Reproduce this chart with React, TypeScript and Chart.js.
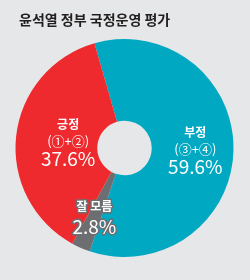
import React, { useEffect, useRef } from "react";
import { Chart, registerables } from "chart.js";

Chart.register(...registerables);

const TITLE = "윤석열 정부 국정운영 평가";
const categories = ["부정", "잘 모름", "긍정"];
const subLabels = ["(③+④)", "", "(①+②)"];
const values = [59.6, 2.8, 37.6];
const colors = ["#00a9c1", "#6d6e72", "#ee2a2e"];
const BG = "#e6e7e9";
const FONT = "'Noto Sans CJK KR', 'Noto Sans', sans-serif";

const labelPlugin = {
  id: "sliceLabels",
  afterDraw(chart: any) {
    const ctx = chart.ctx;
    ctx.save();
    // title
    ctx.fillStyle = "#231f20";
    ctx.font = `bold 14px ${FONT}`;
    ctx.textAlign = "left";
    ctx.textBaseline = "middle";
    ctx.fillText(TITLE, 19, 20);

    const meta = chart.getDatasetMeta(0);
    const radiusFactor = [0.65, 0.69, 0.52];
    meta.data.forEach((arc: any, i: number) => {
      const mid = (arc.startAngle + arc.endAngle) / 2;
      const r = arc.outerRadius * radiusFactor[i];
      const x = arc.x + Math.cos(mid) * r;
      const y = arc.y + Math.sin(mid) * r;
      const pct = values[i].toFixed(1) + "%";
      ctx.textAlign = "center";
      ctx.textBaseline = "middle";
      if (subLabels[i]) {
        ctx.fillStyle = "#ffffff";
        ctx.font = `bold 12px ${FONT}`;
        ctx.fillText(categories[i], x, y - 17);
        ctx.font = `13px ${FONT}`;
        ctx.fillText(subLabels[i], x, y - 1);
        ctx.font = `19px ${FONT}`;
        ctx.fillText(pct, x, y + 17);
      } else {
        ctx.lineJoin = "round";
        ctx.strokeStyle = "#6d6e72";
        ctx.lineWidth = 3;
        ctx.fillStyle = "#ffffff";
        ctx.font = `bold 12px ${FONT}`;
        ctx.strokeText(categories[i], x, y - 10);
        ctx.fillText(categories[i], x, y - 10);
        ctx.font = `19px ${FONT}`;
        ctx.strokeText(pct, x, y + 10);
        ctx.fillText(pct, x, y + 10);
      }
    });
    ctx.restore();
  },
};

export default function App() {
  const ref = useRef<HTMLCanvasElement | null>(null);
  useEffect(() => {
    if (!ref.current) return;
    const chart = new Chart(ref.current, {
      type: "doughnut",
      data: {
        labels: categories,
        datasets: [
          {
            data: values,
            backgroundColor: colors,
            borderWidth: 0,
          },
        ],
      },
      options: {
        responsive: false,
        animation: false,
        devicePixelRatio: 1,
        cutout: "25%",
        rotation: -16,
        layout: { padding: { top: 39, bottom: 23, left: 15, right: 16 } },
        plugins: {
          legend: { display: false },
          tooltip: { enabled: false },
          title: { display: false },
        },
      },
      plugins: [labelPlugin],
    });
    return () => chart.destroy();
  }, []);
  return (
    <div
      style={{
        position: "absolute",
        left: 0,
        top: 0,
        width: 250,
        height: 280,
        background: BG,
      }}
    >
      <canvas ref={ref} width={250} height={280} />
    </div>
  );
}
